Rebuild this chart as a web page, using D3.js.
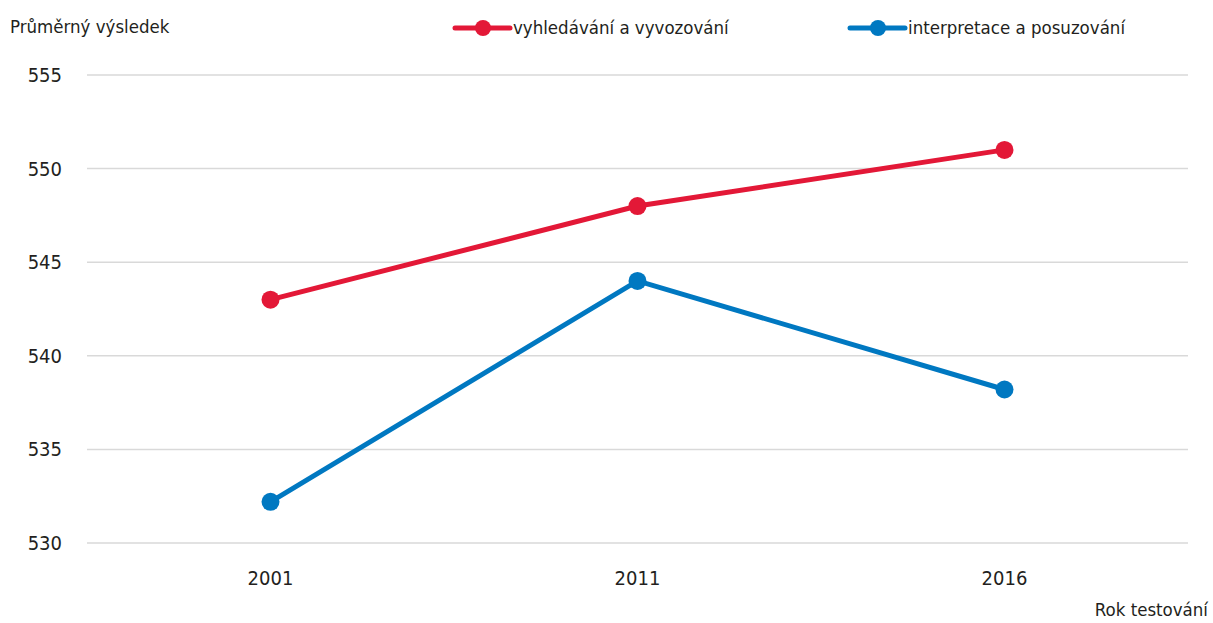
<!DOCTYPE html>
<html>
<head>
<meta charset="utf-8">
<script src="https://cdn.jsdelivr.net/npm/d3@7"></script>
<style>
  body { margin: 0; background: #fff; }
  text { font-family: "DejaVu Sans Condensed", "DejaVu Sans", sans-serif; font-stretch: condensed; fill: #231f20; }
</style>
</head>
<body>
<div id="chart"></div>
<script>
var years = ['2001', '2011', '2016'];
var seriesNames = ['vyhledávání a vyvozování', 'interpretace a posuzování'];
var vyhledavani = [543, 548, 551];
var interpretace = [532.2, 544, 538.2];
var yTicks = [530, 535, 540, 545, 550, 555];
var colors = ['#e31837', '#0078c1'];

var width = 1213, height = 623;
var margin = { left: 87, right: 25, top: 75, bottom: 80 };
var fs = '18.5px';

var svg = d3.select('#chart')
  .append('svg')
  .attr('width', width)
  .attr('height', height);

var x = d3.scalePoint()
  .domain(years)
  .range([margin.left, width - margin.right])
  .padding(0.5);

var y = d3.scaleLinear()
  .domain([530, 555])
  .range([height - margin.bottom, margin.top]);

// grid
svg.append('g')
  .selectAll('line')
  .data(yTicks)
  .enter().append('line')
    .attr('x1', margin.left)
    .attr('x2', width - margin.right)
    .attr('y1', d => y(d))
    .attr('y2', d => y(d))
    .attr('stroke', '#d9d9d9')
    .attr('stroke-width', 1.5);

// y axis labels
svg.append('g')
  .selectAll('text')
  .data(yTicks)
  .enter().append('text')
    .attr('x', 62)
    .attr('y', d => y(d))
    .attr('dy', '0.35em')
    .attr('text-anchor', 'end')
    .style('font-size', '20px')
    .text(d => d);

// x axis labels
svg.append('g')
  .selectAll('text')
  .data(years)
  .enter().append('text')
    .attr('x', d => x(d))
    .attr('y', 585)
    .attr('text-anchor', 'middle')
    .style('font-size', '20px')
    .text(d => d);

svg.append('text')
  .attr('x', 10)
  .attr('y', 33)
  .style('font-size', fs)
  .text('Průměrný výsledek');

svg.append('text')
  .attr('x', 1208)
  .attr('y', 616)
  .attr('text-anchor', 'end')
  .style('font-size', fs)
  .text('Rok testování');

var line = d3.line()
  .x((d, i) => x(years[i]))
  .y(d => y(d));

[vyhledavani, interpretace].forEach((vals, k) => {
  svg.append('path')
    .datum(vals)
    .attr('d', line)
    .attr('fill', 'none')
    .attr('stroke', colors[k])
    .attr('stroke-width', 5);

  svg.append('g')
    .selectAll('circle')
    .data(vals)
    .enter().append('circle')
      .attr('cx', (d, i) => x(years[i]))
      .attr('cy', d => y(d))
      .attr('r', 9)
      .attr('fill', colors[k]);
});

// legend
var legendX = [455, 850];
var legend = svg.append('g')
  .selectAll('g')
  .data(seriesNames)
  .enter().append('g')
    .attr('transform', (d, i) => 'translate(' + legendX[i] + ',28)');

legend.append('line')
  .attr('x1', 0).attr('x2', 55)
  .attr('stroke', (d, i) => colors[i])
  .attr('stroke-width', 5)
  .attr('stroke-linecap', 'round');

legend.append('circle')
  .attr('cx', 28)
  .attr('r', 8)
  .attr('fill', (d, i) => colors[i]);

legend.append('text')
  .attr('x', 58)
  .attr('dy', '0.35em')
  .style('font-size', fs)
  .text(d => d);
</script>
</body>
</html>
